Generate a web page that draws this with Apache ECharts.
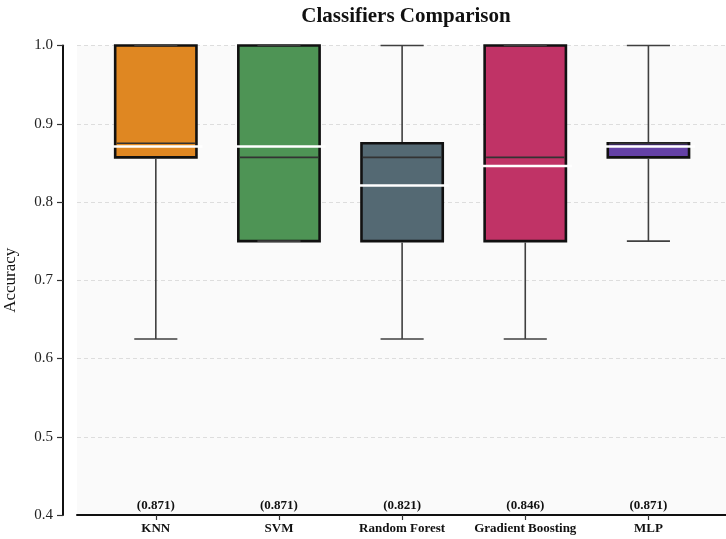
<!DOCTYPE html>
<html>
<head>
<meta charset="utf-8">
<script src="https://cdn.jsdelivr.net/npm/echarts@6/dist/echarts.min.js"></script>
<style>
html,body{margin:0;padding:0;background:#fff;}
#chart{width:726px;height:539px;}
</style>
</head>
<body>
<div id="chart"></div>
<script>
// ---- Data ----
const categories = ['KNN', 'SVM', 'Random Forest', 'Gradient Boosting', 'MLP'];
const whiskerLow = [0.625, 0.75, 0.625, 0.625, 0.75];
const q1Values = [0.857, 0.75, 0.75, 0.75, 0.857];
const medianValues = [0.875, 0.857, 0.857, 0.857, 0.875];
const q3Values = [1.0, 1.0, 0.875, 1.0, 0.875];
const whiskerHigh = [1.0, 1.0, 1.0, 1.0, 1.0];
const meanValues = [0.871, 0.871, 0.821, 0.846, 0.871];
const yTicks = [0.4, 0.5, 0.6, 0.7, 0.8, 0.9, 1.0];

const boxColors = ['#DF8722', '#4E9455', '#546973', '#C03366', '#6441A6'];
const SERIF = '"Liberation Serif", "Times New Roman", serif';
const BOX_W = 0.66;
const CAP_W = 0.35;

const data = categories.map((c, i) => [i + 1, whiskerLow[i], q1Values[i], medianValues[i], q3Values[i], whiskerHigh[i], meanValues[i]]);

const chart = echarts.init(document.getElementById('chart'), null, {renderer: 'canvas'});

function renderItem(params, api) {
  const x = api.value(0);
  const lo = api.value(1), q1 = api.value(2), med = api.value(3), q3 = api.value(4), hi = api.value(5), mean = api.value(6);
  const bw = api.size([BOX_W, 0])[0];
  const cw = api.size([CAP_W, 0])[0];
  const pLo = api.coord([x, lo]);
  const pQ1 = api.coord([x, q1]);
  const pMed = api.coord([x, med]);
  const pQ3 = api.coord([x, q3]);
  const pHi = api.coord([x, hi]);
  const pMean = api.coord([x, mean]);
  const pBase = api.coord([x, 0.4]);
  const cx = pQ1[0];
  const whiskerStyle = {stroke: '#3f3f3f', lineWidth: 1.6, fill: null};
  const children = [];
  children.push({
    type: 'rect',
    shape: {x: cx - bw / 2, y: pQ3[1], width: bw, height: pQ1[1] - pQ3[1]},
    style: {fill: boxColors[params.dataIndex], stroke: '#111', lineWidth: 2.6}
  });
  if (lo < q1) {
    children.push({type: 'line', shape: {x1: cx, y1: pQ1[1] + 1.3, x2: cx, y2: pLo[1]}, style: whiskerStyle});
  }
  if (hi > q3) {
    children.push({type: 'line', shape: {x1: cx, y1: pQ3[1] - 1.3, x2: cx, y2: pHi[1]}, style: whiskerStyle});
  }
  children.push({type: 'line', shape: {x1: cx - cw / 2, y1: pLo[1], x2: cx + cw / 2, y2: pLo[1]}, style: whiskerStyle});
  children.push({type: 'line', shape: {x1: cx - cw / 2, y1: pHi[1], x2: cx + cw / 2, y2: pHi[1]}, style: whiskerStyle});
  children.push({type: 'line', shape: {x1: cx - bw / 2 + 1.5, y1: pMed[1], x2: cx + bw / 2 - 1.5, y2: pMed[1]}, style: {stroke: '#333', lineWidth: 1.6}});
  children.push({type: 'line', shape: {x1: cx - bw / 2 - 2, y1: pMean[1], x2: cx + bw / 2 + 6, y2: pMean[1]}, style: {stroke: '#ffffff', lineWidth: 2.6}});
  children.push({
    type: 'text',
    style: {
      text: '(' + mean.toFixed(3) + ')',
      x: cx, y: pBase[1] - 9,
      align: 'center', verticalAlign: 'middle',
      fontFamily: SERIF, fontWeight: 'bold', fontSize: 13, fill: '#111'
    }
  });
  return {type: 'group', children: children};
}

const option = {
  animation: false,
  backgroundColor: '#ffffff',
  title: {
    text: 'Classifiers Comparison',
    left: 401, top: 1, textAlign: 'center',
    textStyle: {fontFamily: SERIF, fontWeight: 'bold', fontSize: 21, color: '#111'}
  },
  grid: {
    left: 77, right: 0, top: 45.5, bottom: 24,
    containLabel: false,
    outerBoundsMode: 'none',
    show: true, backgroundColor: '#FAFAFA', borderWidth: 0
  },
  xAxis: {
    type: 'value',
    min: 0.36, max: 5.63,
    splitLine: {show: false},
    axisLine: {show: true, onZero: false, lineStyle: {color: '#111', width: 2}},
    axisTick: {show: true, customValues: [1, 2, 3, 4, 5], length: 5, lineStyle: {color: '#333', width: 1.2}},
    axisLabel: {
      customValues: [1, 2, 3, 4, 5],
      formatter: v => categories[Math.round(v) - 1] || '',
      fontFamily: SERIF, fontWeight: 'bold', fontSize: 13, color: '#111', margin: 7
    }
  },
  yAxis: {
    type: 'value',
    min: 0.4, max: 1.0, interval: 0.1,
    offset: 14,
    name: 'Accuracy',
    nameLocation: 'middle',
    nameGap: 44,
    nameTextStyle: {fontFamily: SERIF, fontSize: 17, color: '#111'},
    axisLine: {show: true, lineStyle: {color: '#111', width: 2}},
    axisTick: {show: true, length: 6, lineStyle: {color: '#333', width: 1.2}},
    axisLabel: {
      formatter: v => (Math.round(v * 10) / 10).toFixed(1),
      fontFamily: SERIF, fontSize: 15, color: '#222', margin: 10
    },
    splitLine: {show: true, lineStyle: {color: '#dddddd', type: [4, 3], width: 1}}
  },
  series: [{
    type: 'custom',
    renderItem: renderItem,
    encode: {x: 0, y: [1, 2, 3, 4, 5, 6]},
    data: data,
    clip: false
  }]
};
chart.setOption(option);
</script>
</body>
</html>
